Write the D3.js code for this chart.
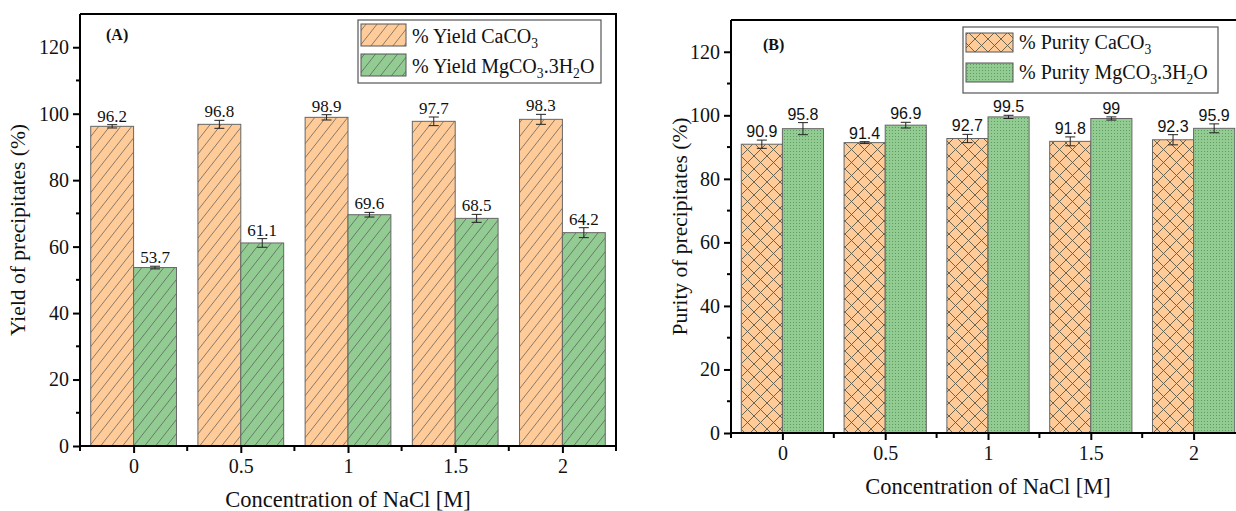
<!DOCTYPE html>
<html>
<head>
<meta charset="utf-8">
<script src="https://cdn.jsdelivr.net/npm/d3@7"></script>
<style>
body { margin: 0; background: #fff; }
svg { display: block; }
</style>
</head>
<body>
<div id="chart"></div>
<script>
// data
var concentrations = [0, 0.5, 1, 1.5, 2];
var xTicks = [0, 0.5, 1, 1.5, 2];
var yTicks = [0, 20, 40, 60, 80, 100, 120];

var yieldCa = [96.2, 96.8, 98.9, 97.7, 98.3];
var yieldCaErr = [0.5, 1.2, 0.8, 1.3, 1.5];
var yieldMg = [53.7, 61.1, 69.6, 68.5, 64.2];
var yieldMgErr = [0.4, 1.3, 0.7, 1.2, 1.5];

var purityCa = [90.9, 91.4, 92.7, 91.8, 92.3];
var purityCaErr = [1.3, 0.3, 1.3, 1.4, 1.6];
var purityMg = [95.8, 96.9, 99.5, 99, 95.9];
var purityMgErr = [1.9, 0.9, 0.5, 0.5, 1.4];

var orange = "#ffcc99";
var green = "#93cc93";
var serif = "'Liberation Serif', 'Times New Roman', serif";

var svg = d3.select("#chart").append("svg")
	.attr("width", 1236)
	.attr("height", 511);

var defs = svg.append("defs");

// single diagonal hatch
function hatch(id, fill) {
	var p = defs.append("pattern")
		.attr("id", id)
		.attr("patternUnits", "userSpaceOnUse")
		.attr("width", 11).attr("height", 14);
	p.append("rect").attr("width", 11).attr("height", 14).attr("fill", fill);
	p.append("path")
		.attr("d", "M0,14 L11,0 M-1,1.27 L1,-1.27 M10,15.27 L12,12.73")
		.attr("stroke", "#555").attr("stroke-width", 0.7).attr("fill", "none");
}
hatch("hatchOrange", orange);
hatch("hatchGreen", green);

// cross hatch
var ch = defs.append("pattern")
	.attr("id", "crossOrange")
	.attr("patternUnits", "userSpaceOnUse")
	.attr("width", 13).attr("height", 13);
ch.append("rect").attr("width", 13).attr("height", 13).attr("fill", orange);
ch.append("path")
	.attr("d", "M0,0 L13,13 M13,0 L0,13")
	.attr("stroke", "#5a5a4a").attr("stroke-width", 0.9).attr("fill", "none");

// dots
var dt = defs.append("pattern")
	.attr("id", "dotsGreen")
	.attr("patternUnits", "userSpaceOnUse")
	.attr("width", 3).attr("height", 3);
dt.append("rect").attr("width", 3).attr("height", 3).attr("fill", green);
dt.append("rect").attr("x", 1).attr("y", 1).attr("width", 1).attr("height", 1).attr("fill", "#5f9c5f");

function addChem(text, parts) {
	// parts: array of [string, isSub]
	parts.forEach(function (p, i) {
		var prevSub = i > 0 && parts[i - 1][1];
		var t = text.append("tspan").text(p[0]);
		if (p[1]) t.attr("dy", 5).attr("font-size", "0.68em");
		else if (prevSub) t.attr("dy", -5);
	});
}

function drawPanel(cfg) {
	var x = d3.scaleLinear().domain([-0.25, 2.25]).range([cfg.left, cfg.right]);
	var y = d3.scaleLinear().domain([0, 130]).range([cfg.bottom, cfg.top]);
	var bw = x(0.2) - x(0);

	var g = svg.append("g");

	// bars
	var series = [
		{ vals: cfg.a, err: cfg.aErr, fill: cfg.aFill, off: -0.2 },
		{ vals: cfg.b, err: cfg.bErr, fill: cfg.bFill, off: 0 }
	];
	series.forEach(function (s) {
		g.selectAll(null)
			.data(concentrations)
			.enter().append("rect")
			.attr("x", function (d) { return x(d + s.off); })
			.attr("y", function (d, i) { return y(s.vals[i]); })
			.attr("width", bw)
			.attr("height", function (d, i) { return y(0) - y(s.vals[i]); })
			.attr("fill", s.fill)
			.attr("stroke", "#666")
			.attr("stroke-width", 1);

		// error bars
		var eb = g.selectAll(null)
			.data(concentrations)
			.enter().append("g")
			.attr("stroke", "#222").attr("stroke-width", 1);
		eb.append("line")
			.attr("x1", function (d) { return x(d + s.off + 0.1); })
			.attr("x2", function (d) { return x(d + s.off + 0.1); })
			.attr("y1", function (d, i) { return y(s.vals[i] - s.err[i]); })
			.attr("y2", function (d, i) { return y(s.vals[i] + s.err[i]); });
		[-1, 1].forEach(function (sign) {
			eb.append("line")
				.attr("x1", function (d) { return x(d + s.off + 0.1) - 5; })
				.attr("x2", function (d) { return x(d + s.off + 0.1) + 5; })
				.attr("y1", function (d, i) { return y(s.vals[i] + sign * s.err[i]); })
				.attr("y2", function (d, i) { return y(s.vals[i] + sign * s.err[i]); });
		});

		// value labels
		g.selectAll(null)
			.data(concentrations)
			.enter().append("text")
			.attr("x", function (d) { return x(d + s.off + 0.1); })
			.attr("y", function (d, i) { return y(s.vals[i] + s.err[i]) - 3; })
			.attr("text-anchor", "middle")
			.attr("font-family", cfg.labelFont)
			.attr("font-size", cfg.labelSize)
			.attr("fill", "#111")
			.text(function (d, i) { return s.vals[i]; });
	});

	// frame
	g.append("path")
		.attr("d", "M" + cfg.left + "," + cfg.top + "H" + cfg.right + "V" + cfg.bottom)
		.attr("fill", "none").attr("stroke", "#000").attr("stroke-width", 2);

	// axes
	var yMinor = d3.range(10, 130, 20);
	var xMinor = [-0.25, 0.25, 0.75, 1.25, 1.75, 2.25];

	var yAxis = d3.axisLeft(y).tickValues(yTicks).tickSize(7).tickPadding(4);
	var yAx = g.append("g")
		.attr("transform", "translate(" + cfg.left + ",0)")
		.call(yAxis);
	yAx.select(".domain").remove();
	yAx.append("line")
		.attr("y1", cfg.top).attr("y2", cfg.bottom + 1)
		.attr("stroke", "#000").attr("stroke-width", 2);
	yAx.selectAll(".tick line").attr("stroke-width", 2);
	yAx.selectAll(null).data(yMinor).enter().append("line")
		.attr("x1", -4).attr("x2", 0)
		.attr("y1", function (d) { return y(d); }).attr("y2", function (d) { return y(d); })
		.attr("stroke", "#000").attr("stroke-width", 2);

	var xAxis = d3.axisBottom(x).tickValues(xTicks).tickSize(7).tickPadding(6)
		.tickFormat(function (d) { return d; });
	var xAx = g.append("g")
		.attr("transform", "translate(0," + cfg.bottom + ")")
		.call(xAxis);
	xAx.select(".domain").remove();
	xAx.append("line")
		.attr("x1", cfg.left - 1).attr("x2", cfg.right)
		.attr("stroke", "#000").attr("stroke-width", 2);
	xAx.selectAll(".tick line").attr("stroke-width", 2);
	xAx.selectAll(null).data(xMinor).enter().append("line")
		.attr("y1", 0).attr("y2", 5)
		.attr("x1", function (d) { return x(d); }).attr("x2", function (d) { return x(d); })
		.attr("stroke", "#000").attr("stroke-width", 2);

	[yAx, xAx].forEach(function (a) {
		a.selectAll(".tick text")
			.attr("font-family", serif)
			.attr("font-size", 20)
			.attr("fill", "#111");
	});

	// axis titles
	g.append("text")
		.attr("x", x(1))
		.attr("y", cfg.bottom + 61)
		.attr("text-anchor", "middle")
		.attr("font-family", serif)
		.attr("font-size", 22.5)
		.attr("fill", "#111")
		.text("Concentration of NaCl [M]");

	g.append("text")
		.attr("transform", "translate(" + cfg.yTitleX + "," + ((cfg.top + cfg.bottom) / 2) + ") rotate(-90)")
		.attr("text-anchor", "middle")
		.attr("font-family", serif)
		.attr("font-size", 21.5)
		.attr("fill", "#111")
		.text(cfg.yTitle);

	// panel letter
	g.append("text")
		.attr("x", cfg.letterX).attr("y", cfg.letterY)
		.attr("font-family", serif)
		.attr("font-weight", "bold")
		.attr("font-size", 16)
		.attr("fill", "#111")
		.text(cfg.letter);

	// legend
	var lg = cfg.legend;
	g.append("rect")
		.attr("x", lg.x).attr("y", lg.y).attr("width", lg.w).attr("height", lg.h)
		.attr("fill", "#fff").attr("stroke", "#555").attr("stroke-width", 1.2);
	lg.items.forEach(function (it, i) {
		var ry = lg.y + lg.rowY[i];
		g.append("rect")
			.attr("x", lg.x + 3).attr("y", ry)
			.attr("width", lg.sw).attr("height", lg.sh)
			.attr("fill", it.fill).attr("stroke", "#555").attr("stroke-width", 1);
		var t = g.append("text")
			.attr("x", lg.x + lg.sw + 9)
			.attr("y", ry + lg.sh - 3)
			.attr("font-family", serif)
			.attr("font-size", lg.fs)
			.attr("fill", "#111");
		addChem(t, it.parts);
	});
}

drawPanel({
	left: 80, right: 616, top: 14, bottom: 446,
	a: yieldCa, aErr: yieldCaErr, aFill: "url(#hatchOrange)",
	b: yieldMg, bErr: yieldMgErr, bFill: "url(#hatchGreen)",
	labelFont: serif, labelSize: 17,
	yTitle: "Yield of precipitates (%)", yTitleX: 25,
	letter: "(A)", letterX: 106, letterY: 40,
	legend: {
		x: 358, y: 20, w: 243, h: 63, sw: 45, sh: 22, rowY: [4, 34], fs: 20,
		items: [
			{ fill: "url(#hatchOrange)", parts: [["% Yield CaCO", false], ["3", true]] },
			{ fill: "url(#hatchGreen)", parts: [["% Yield MgCO", false], ["3", true], [".3H", false], ["2", true], ["O", false]] }
		]
	}
});

drawPanel({
	left: 731, right: 1245, top: 20, bottom: 433,
	a: purityCa, aErr: purityCaErr, aFill: "url(#crossOrange)",
	b: purityMg, bErr: purityMgErr, bFill: "url(#dotsGreen)",
	labelFont: "'Liberation Sans', Arial, sans-serif", labelSize: 16,
	yTitle: "Purity of precipitates (%)", yTitleX: 687,
	letter: "(B)", letterX: 763, letterY: 50,
	legend: {
		x: 963, y: 27, w: 255, h: 66, sw: 47, sh: 19, rowY: [6, 36], fs: 20,
		items: [
			{ fill: "url(#crossOrange)", parts: [["% Purity CaCO", false], ["3", true]] },
			{ fill: "url(#dotsGreen)", parts: [["% Purity MgCO", false], ["3", true], [".3H", false], ["2", true], ["O", false]] }
		]
	}
});
</script>
</body>
</html>
